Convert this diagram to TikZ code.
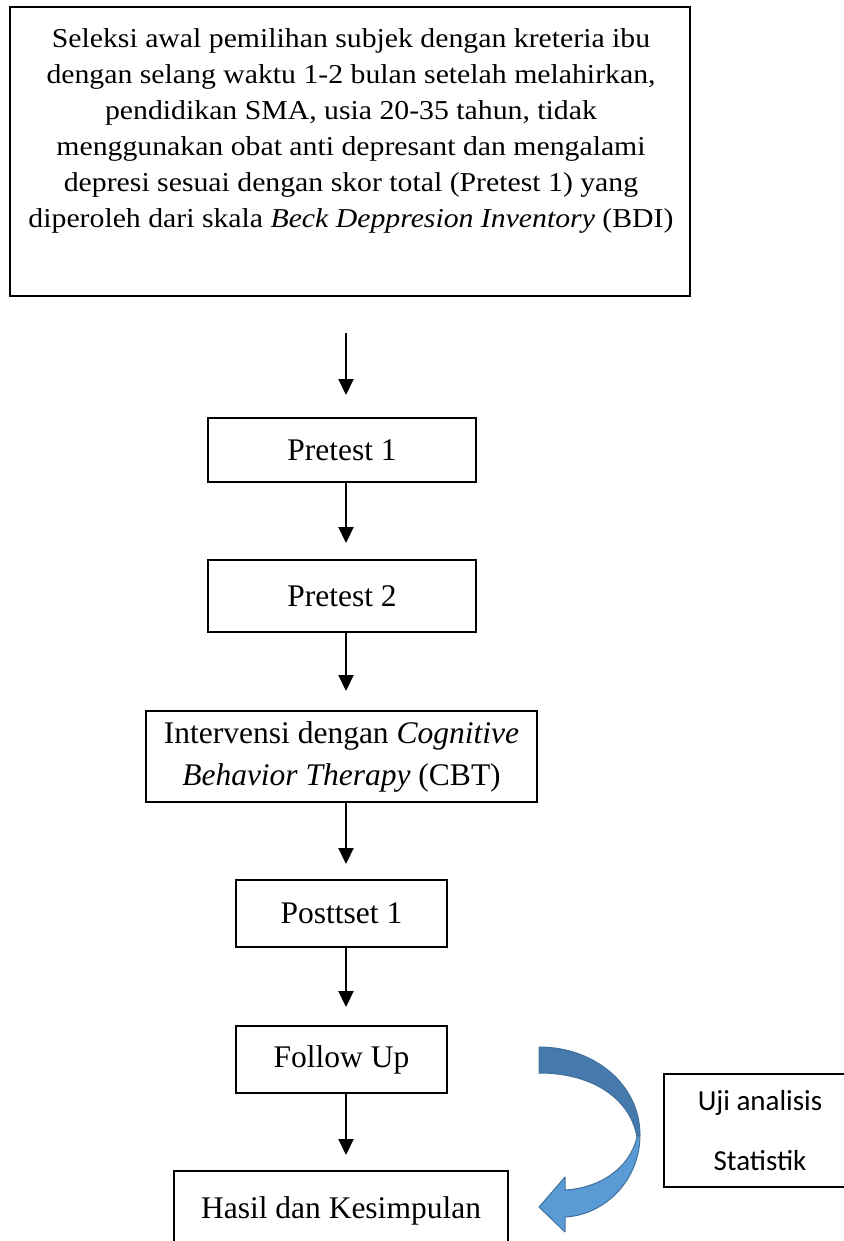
\documentclass[tikz,border=0pt]{standalone}
\usepackage{fontspec}
\setmainfont{Liberation Serif}
\newfontfamily\calibrifont{Carlito}
\newfontfamily\widefont[FakeStretch=1.09]{Liberation Serif}
\usetikzlibrary{arrows.meta,calc}
\definecolor{bluedark}{RGB}{70,122,172}
\definecolor{bluelight}{RGB}{91,155,213}
\definecolor{blueline}{RGB}{65,113,156}
\begin{document}
\begin{tikzpicture}[x=1pt,y=-1pt,
  box/.style={draw, line width=2pt, inner sep=0pt, font=\fontsize{31.5}{42}\selectfont, align=center},
  arr/.style={line width=2.2pt, -{Triangle[width=15pt,length=16pt]}}]
\useasboundingbox (0,0) rectangle (843,1241);
% top selection box
\node[draw, line width=2pt, minimum width=680pt, minimum height=289pt, inner sep=0pt] (sel) at (350,151.5) {};
\node[anchor=north, inner sep=0pt, align=center, font=\widefont\fontsize{27.3}{36}\selectfont] (seltext) at (351,28.5)
 {Seleksi awal pemilihan subjek dengan kreteria ibu\\
  dengan selang waktu 1-2 bulan setelah melahirkan,\\
  pendidikan SMA, usia 20-35 tahun, tidak\\
  menggunakan obat anti depresant dan mengalami\\
  depresi sesuai dengan skor total (Pretest 1) yang\\
  diperoleh dari skala \textit{Beck Deppresion Inventory} (BDI)};
% flow boxes
\node[box, minimum width=268pt, minimum height=64pt] (p1) at (342,450) {Pretest 1};
\node[box, minimum width=268pt, minimum height=72pt] (p2) at (342,596) {Pretest 2};
\node[box, minimum width=391pt, minimum height=91pt] (int) at (341.5,756.5) {Intervensi dengan \textit{Cognitive}\\\textit{Behavior Therapy} (CBT)};
\node[box, minimum width=211pt, minimum height=67pt] (post) at (341.5,913.5) {Posttset 1};
\node[box, minimum width=211pt, minimum height=67pt] (fu) at (341.5,1059.5) {Follow Up};
\node[box, minimum width=334pt, minimum height=80pt] (hasil) at (341,1211) {Hasil dan Kesimpulan};
\node[box, minimum width=192pt, minimum height=113pt, font=\calibrifont\fontsize{29}{60}\selectfont] (uji) at (760,1130.5) {Uji analisis\\Statistik};
% connectors
\coordinate (ax) at (346,0);
\coordinate (s0) at (346,333);
\draw[arr, shorten >=22pt] (s0) -- (p1.north -| ax);
\draw[arr, shorten >=16pt] (p1.south -| ax) -- (p2.north -| ax);
\draw[arr, shorten >=19pt] (p2.south -| ax) -- (int.north -| ax);
\draw[arr, shorten >=15pt] (int.south -| ax) -- (post.north -| ax);
\draw[arr, shorten >=18pt] (post.south -| ax) -- (fu.north -| ax);
\draw[arr, shorten >=15pt] (fu.south -| ax) -- (hasil.north -| ax);
% curved block arrow
\filldraw[fill=bluedark, draw=blueline, line width=1pt, line join=round]
  (539,1047) .. controls (595,1047) and (640,1085) .. (640,1135)
  -- (637,1137) .. controls (630,1098) and (592,1073) .. (539,1073) -- cycle;
\filldraw[fill=bluelight, draw=blueline, line width=1pt, line join=round]
  (640,1135) .. controls (640,1180) and (605,1215) .. (565,1217)
  -- (565,1232) -- (539,1207) -- (565,1177) -- (565,1190)
  .. controls (600,1188) and (630,1168) .. (637,1137) -- cycle;
\end{tikzpicture}
\end{document}
